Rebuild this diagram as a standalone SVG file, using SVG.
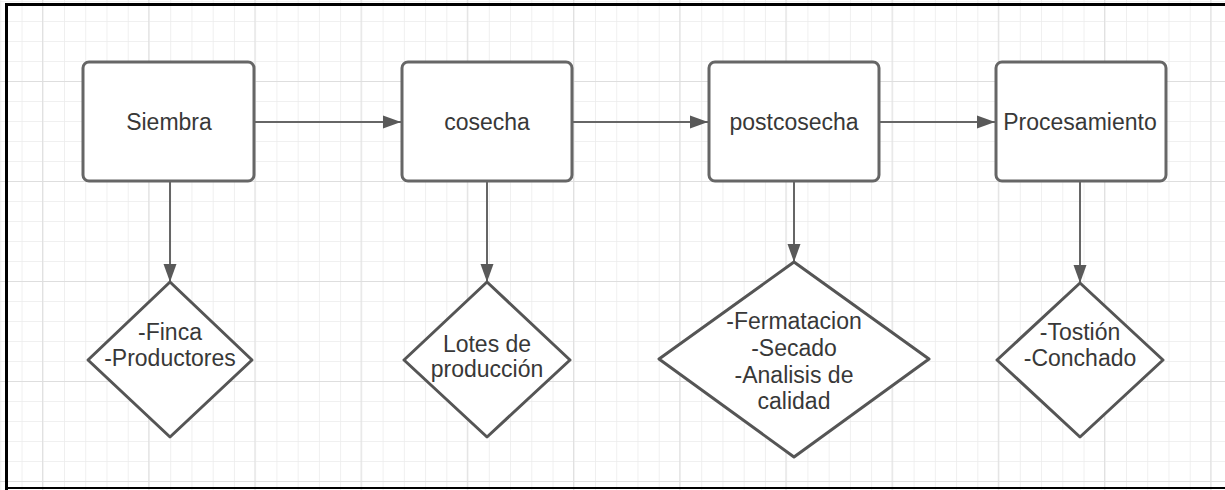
<svg xmlns="http://www.w3.org/2000/svg" width="1225" height="490" viewBox="0 0 1225 490">
  <defs>
    <pattern id="minor" x="0.3" y="1" width="21.24" height="20" patternUnits="userSpaceOnUse">
      <path d="M0 0V20M0 0H21.24" fill="none" stroke="#ececec" stroke-width="1.6"/>
    </pattern>
    <pattern id="major" x="42" y="81" width="106.2" height="100" patternUnits="userSpaceOnUse">
      <path d="M0 0V100M0 0H106.2" fill="none" stroke="#dedede" stroke-width="1.8"/>
    </pattern>
    <marker id="arrow" markerUnits="userSpaceOnUse" markerWidth="20" markerHeight="14" refX="18" refY="7" orient="auto">
      <path d="M0 0.5L18 7L0 13.5Z" fill="#595959"/>
    </marker>
    <style>
      .box{fill:#fff;stroke:#666;stroke-width:3}
      .dia{fill:#fff;stroke:#555;stroke-width:3;stroke-linejoin:round}
      .lbl{font-family:"Liberation Sans",Arial,sans-serif;font-size:23px;fill:#383838;text-anchor:middle}
      .conn{stroke:#666;stroke-width:2;fill:none}
    </style>
  </defs>
  <rect width="1225" height="490" fill="#fff"/>
  <rect width="1225" height="490" fill="url(#minor)"/>
  <rect width="1225" height="490" fill="url(#major)"/>
  <g id="frame" fill="none" stroke="#000">
    <line x1="5" y1="4.5" x2="1225" y2="4.5" stroke-width="3"/>
    <line x1="6.5" y1="3" x2="6.5" y2="490" stroke-width="3"/>
    <line x1="5" y1="488" x2="1225" y2="488" stroke-width="2"/>
  </g>

  <g id="connectors" class="conn">
    <line x1="254" y1="122" x2="401" y2="122" marker-end="url(#arrow)"/>
    <line x1="572" y1="122" x2="708" y2="122" marker-end="url(#arrow)"/>
    <line x1="879" y1="122" x2="995" y2="122" marker-end="url(#arrow)"/>
    <line x1="170" y1="181" x2="170" y2="282" marker-end="url(#arrow)"/>
    <line x1="487" y1="181" x2="487" y2="282" marker-end="url(#arrow)"/>
    <line x1="794" y1="181" x2="794" y2="262" marker-end="url(#arrow)"/>
    <line x1="1080" y1="181" x2="1080" y2="283" marker-end="url(#arrow)"/>
  </g>

  <g id="siembra">
    <rect class="box" x="83" y="62" width="171" height="119" rx="6"/>
    <text class="lbl" x="169" y="130">Siembra</text>
  </g>
  <g id="cosecha">
    <rect class="box" x="402" y="62" width="170" height="119" rx="6"/>
    <text class="lbl" x="487" y="130">cosecha</text>
  </g>
  <g id="postcosecha">
    <rect class="box" x="709" y="62" width="170" height="119" rx="6"/>
    <text class="lbl" x="794" y="130">postcosecha</text>
  </g>
  <g id="procesamiento">
    <rect class="box" x="996" y="62" width="170" height="119" rx="6"/>
    <text class="lbl" x="1080" y="130">Procesamiento</text>
  </g>

  <g id="d-finca">
    <path class="dia" d="M170 282L252 360L170 437L88 360Z"/>
    <text class="lbl" x="170" y="340">-Finca</text>
    <text class="lbl" x="170" y="366">-Productores</text>
  </g>
  <g id="d-lotes">
    <path class="dia" d="M487 282L570 360L487 437L404 360Z"/>
    <text class="lbl" x="487" y="352">Lotes de</text>
    <text class="lbl" x="487" y="377">producción</text>
  </g>
  <g id="d-post">
    <path class="dia" d="M794 262L929 359L794 457L659 359Z"/>
    <text class="lbl" x="794" y="329">-Fermatacion</text>
    <text class="lbl" x="794" y="356">-Secado</text>
    <text class="lbl" x="794" y="383">-Analisis de</text>
    <text class="lbl" x="794" y="409">calidad</text>
  </g>
  <g id="d-proc">
    <path class="dia" d="M1080 283L1163 360L1080 437L997 360Z"/>
    <text class="lbl" x="1080" y="340">-Tostión</text>
    <text class="lbl" x="1080" y="366">-Conchado</text>
  </g>
</svg>
